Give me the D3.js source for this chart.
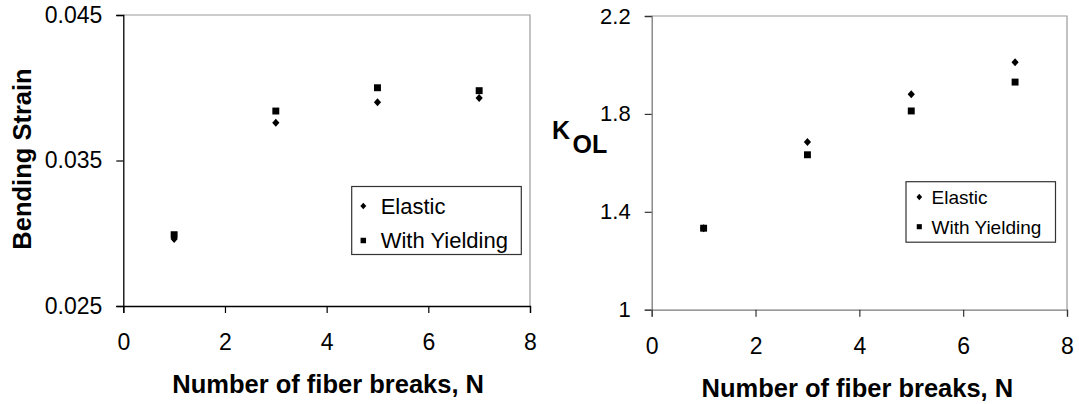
<!DOCTYPE html>
<html>
<head>
<meta charset="utf-8">
<script src="https://cdn.jsdelivr.net/npm/d3@7/dist/d3.min.js"></script>
<style>
  html, body { margin: 0; padding: 0; background: #fff; }
  svg { display: block; font-family: "Liberation Sans", Arial, Helvetica, sans-serif; }
</style>
</head>
<body>
<svg id="chart" width="1079" height="404"></svg>
<script>
// Number of fiber breaks
const breaks = [1, 3, 5, 7];

// Bending strain
const strainElastic = [0.0296, 0.0376, 0.0390, 0.0393];
const strainYielding = [0.0299, 0.0384, 0.0400, 0.0398];
const strainTicks = [0.025, 0.035, 0.045];

// Overload factor K_OL
const kolElastic = [1.333, 1.685, 1.880, 2.011];
const kolYielding = [1.333, 1.633, 1.812, 1.930];
const kolTicks = [1, 1.4, 1.8, 2.2];

const breakTicks = [0, 2, 4, 6, 8];
const seriesNames = ["Elastic", "With Yielding"];

const svg = d3.select("#chart");

// diamond symbol, a little taller than wide
const diamond = {
  draw(ctx, size) {
    const rx = Math.sqrt(size) * 0.5, ry = rx * 1.12;
    ctx.moveTo(0, -ry); ctx.lineTo(rx, 0); ctx.lineTo(0, ry); ctx.lineTo(-rx, 0); ctx.closePath();
  }
};

function panel(cfg) {
  const x = d3.scaleLinear().domain([0, 8]).range([cfg.left, cfg.right]);
  const y = d3.scaleLinear().domain(cfg.yDomain).range([cfg.bottom, cfg.top]);
  const g = svg.append("g");

  // frame: top and right edges
  g.append("path")
    .attr("d", `M${cfg.left},${cfg.top}H${cfg.right}V${cfg.bottom}`)
    .attr("fill", "none").attr("stroke", "#9a9a9a").attr("stroke-width", 1.2);

  // y axis
  const ya = g.append("g").attr("transform", `translate(${cfg.left},0)`)
    .call(d3.axisLeft(y).tickValues(cfg.yTicks).tickFormat(cfg.yFormat).tickSize(7).tickPadding(14));
  ya.select(".domain").attr("stroke", cfg.axisColor).attr("stroke-width", 1.3);
  ya.selectAll(".tick line").attr("stroke", cfg.tickColor).attr("stroke-width", 1.2);
  ya.selectAll(".tick text").attr("fill", "#000")
    .style("font-size", cfg.yTickFont + "px").style("font-family", "Liberation Sans, Arial, sans-serif");

  // x axis
  const xa = g.append("g").attr("transform", `translate(0,${cfg.bottom})`)
    .call(d3.axisBottom(x).tickValues(breakTicks).tickFormat(d3.format("d")).tickSize(7).tickPadding(21));
  xa.select(".domain").attr("stroke", cfg.axisColor).attr("stroke-width", 1.3);
  xa.selectAll(".tick line").attr("stroke", cfg.tickColor).attr("stroke-width", 1.2);
  xa.selectAll(".tick text").attr("fill", "#000")
    .style("font-size", "23px").style("font-family", "Liberation Sans, Arial, sans-serif");

  // x axis title
  g.append("text")
    .attr("x", (cfg.left + cfg.right) / 2 + cfg.xTitleShift).attr("y", cfg.xTitleY)
    .attr("text-anchor", "middle").attr("font-weight", "bold").attr("font-size", 25.5)
    .text("Number of fiber breaks, N");

  // data points
  const sq = d3.symbol(d3.symbolSquare, 48);
  const dm = d3.symbol(diamond, 52);
  const yield_ = breaks.map((b, i) => ({ b, v: cfg.yielding[i] }));
  const elastic = breaks.map((b, i) => ({ b, v: cfg.elastic[i] }));
  g.selectAll(".yld").data(yield_).enter().append("path")
    .attr("d", sq).attr("fill", "#000")
    .attr("transform", d => `translate(${x(d.b)},${y(d.v)})`);
  g.selectAll(".ela").data(elastic).enter().append("path")
    .attr("d", dm).attr("fill", "#000")
    .attr("transform", d => `translate(${x(d.b)},${y(d.v)})`);

  // legend
  const L = cfg.legend;
  const lg = g.append("g");
  lg.append("rect").attr("x", L.x0).attr("y", L.y0)
    .attr("width", L.x1 - L.x0).attr("height", L.y1 - L.y0)
    .attr("fill", "#fff").attr("stroke", "#333").attr("stroke-width", 1.2);
  const lsq = d3.symbol(d3.symbolSquare, L.mark);
  const ldm = d3.symbol(diamond, L.mark + 6);
  seriesNames.forEach((name, i) => {
    const cy = L.rows[i];
    lg.append("path").attr("d", i === 0 ? ldm : lsq).attr("fill", "#000")
      .attr("transform", `translate(${L.mx},${cy})`);
    lg.append("text").attr("x", L.tx).attr("y", cy + 0.358 * L.font)
      .attr("font-size", L.font).attr("fill", "#000").text(name);
  });
  return g;
}

const left = panel({
  left: 123.3, right: 530, top: 15, bottom: 306,
  yDomain: [0.025, 0.045], yTicks: strainTicks, yFormat: d3.format(".3f"), yTickFont: 23,
  axisColor: "#000", tickColor: "#000",
  elastic: strainElastic, yielding: strainYielding,
  xTitleY: 392.7, xTitleShift: 1.5,
  legend: { x0: 351.7, x1: 521.3, y0: 186.5, y1: 254.5, mx: 363.3, tx: 380.7, rows: [206, 240.5], font: 22, mark: 30 }
});

// y axis title of the strain panel
left.append("text")
  .attr("transform", "translate(31,159) rotate(-90)")
  .attr("text-anchor", "middle").attr("font-weight", "bold").attr("font-size", 25.5)
  .text("Bending Strain");

const right = panel({
  left: 651.7, right: 1067, top: 16, bottom: 309.7,
  yDomain: [1, 2.2], yTicks: kolTicks, yFormat: d => d3.format("")(+d.toFixed(1)), yTickFont: 22,
  axisColor: "#7a7a7a", tickColor: "#333",
  elastic: kolElastic, yielding: kolYielding,
  xTitleY: 397.3, xTitleShift: -2,
  legend: { x0: 906, x1: 1055.5, y0: 181.7, y1: 242.2, mx: 919.3, tx: 931.5, rows: [197, 226.7], font: 19, mark: 26 }
});

// y axis title K_OL
const kol = right.append("text").attr("font-weight", "bold").attr("font-size", 25);
kol.append("tspan").attr("x", 552).attr("y", 139.3).text("K");
kol.append("tspan").attr("x", 572.5).attr("y", 153.3).text("OL");
</script>
</body>
</html>
